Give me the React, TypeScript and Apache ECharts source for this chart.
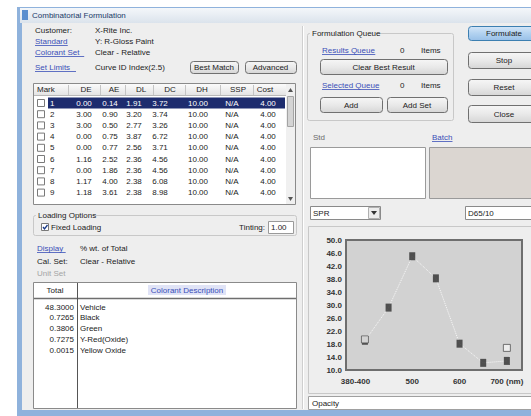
import React, { useEffect, useRef } from "react";
import * as echarts from "echarts";

// ---------- Data ----------
const wavelengths = [400, 450, 500, 550, 600, 650, 700];
const standardReflectance = [19.0, 29.2, 45.0, 38.2, 18.1, 12.2, 12.8];
const batchWavelengths = [400, 700];
const batchReflectance = [19.4, 16.8];
const xTickValues = [380, 500, 600, 700];
const xTickLabels = ["380-400", "500", "600", "700 (nm)"];

const matchHeaders = ["DE", "AE", "DL", "DC", "DH", "SSP", "Cost"];
const matchIds = ["1", "2", "3", "4", "5", "6", "7", "8", "9"];
const matchDE = ["0.00", "3.00", "3.00", "0.00", "0.00", "1.16", "0.00", "1.17", "1.18"];
const matchAE = ["0.14", "0.90", "0.50", "0.75", "0.77", "2.52", "1.86", "4.00", "3.61"];
const matchDL = ["1.91", "3.20", "2.77", "3.87", "2.56", "2.36", "2.36", "2.38", "2.38"];
const matchDC = ["3.72", "3.74", "3.26", "6.72", "3.71", "4.56", "4.56", "6.08", "8.98"];
const matchDH = ["10.00", "10.00", "10.00", "10.00", "10.00", "10.00", "10.00", "10.00", "10.00"];
const matchSSP = ["N/A", "N/A", "N/A", "N/A", "N/A", "N/A", "N/A", "N/A", "N/A"];
const matchCost = ["4.00", "4.00", "4.00", "4.00", "4.00", "4.00", "4.00", "4.00", "4.00"];

const colorantTotals = ["48.3000", "0.7265", "0.3806", "0.7275", "0.0015"];
const colorantNames = ["Vehicle", "Black", "Green", "Y-Red(Oxide)", "Yellow Oxide"];

const FONT = '"Liberation Sans", Arial, sans-serif';
const LINK = "#3a4fb8";
const BODY = "#eeeeee";

type O = { color?: string; size?: number; weight?: string; align?: string; z?: number };
function txt(x: number, y: number, text: string, o: O = {}) {
  const align = o.align ?? "left";
  return {
    type: "text", x, y, z: o.z ?? 4, silent: true,
    style: {
      text, fill: o.color ?? "#1b1b1b", fontSize: o.size ?? 8, fontFamily: FONT,
      fontWeight: o.weight ?? "normal", align, verticalAlign: "middle",
      textAlign: align, textVerticalAlign: "middle",
    },
  };
}
function rect(x: number, y: number, w: number, h: number, fill: any, stroke?: string, lw = 1, z = 1, r = 0) {
  return {
    type: "rect", z, silent: true,
    shape: { x, y, width: w, height: h, r },
    style: { fill, stroke: stroke ?? null, lineWidth: stroke ? lw : 0 },
  };
}
function line(x1: number, y1: number, x2: number, y2: number, stroke: string, lw = 1, z = 2, dash?: number[]) {
  return {
    type: "line", z, silent: true,
    shape: { x1, y1, x2, y2 },
    style: { stroke, lineWidth: lw, lineDash: dash ?? null },
  };
}
function link(x: number, y: number, text: string) {
  const w = text.length * 4.1;
  return [txt(x, y, text, { color: LINK }), line(x, y + 4.5, x + w, y + 4.5, LINK, 0.8, 4)];
}
function button(x: number, y: number, w: number, h: number, label: string, primary = false) {
  const fill = new echarts.graphic.LinearGradient(0, 0, 0, 1, primary
    ? [{ offset: 0, color: "#d4e6f8" }, { offset: 0.5, color: "#b2d2f0" }, { offset: 1, color: "#98c0e8" }]
    : [{ offset: 0, color: "#f6f6f6" }, { offset: 0.5, color: "#e9e9e9" }, { offset: 1, color: "#d6d6d6" }]);
  return [
    rect(x + 0.5, y + 0.5, w, h, fill, primary ? "#3c7fb1" : "#707070", 1, 2, 3),
    txt(x + w / 2, y + h / 2 + 0.5, label, { align: "center" }),
  ];
}
function groupBox(x: number, y: number, w: number, h: number, title?: string, tw = 0) {
  const els: any[] = [rect(x + 0.5, y + 0.5, w, h, "none", "#c8c8c8", 1, 2, 2)];
  if (title) {
    els.push(rect(x + 3, y - 4, tw, 9, BODY, undefined, 0, 3));
    els.push(txt(x + 5, y + 0.5, title, {}));
  }
  return els;
}
function checkbox(x: number, y: number, checked = false) {
  const els: any[] = [rect(x + 0.5, y + 0.5, 7, 7, "#ffffff", "#7a7a7a", 1, 3)];
  if (checked) {
    els.push({ type: "polyline", z: 4, silent: true, shape: { points: [[x + 2, y + 4], [x + 3.5, y + 6], [x + 6.5, y + 2]] }, style: { stroke: "#1b3b8a", lineWidth: 1.3, fill: "none" } });
  }
  return els;
}

function buildGraphic() {
  const els: any[] = [];
  // window frame + body
  els.push(rect(17, 7, 530, 415, "#8fb2dc", undefined, 0, 0));
  els.push(rect(20, 8, 520, 15, new echarts.graphic.LinearGradient(0, 0, 0, 1, [
    { offset: 0, color: "#f4f7fa" }, { offset: 1, color: "#dbe3ec" }]), undefined, 0, 1));
  els.push(rect(22, 10, 6, 10, "#5b8fcf", undefined, 0, 2));
  els.push(txt(32, 15.5, "Combinatorial Formulation", { color: "#223a68", size: 8 }));
  els.push(rect(22, 23, 520, 387, BODY, undefined, 0, 1));

  // header info
  els.push(txt(35, 30, "Customer:"));
  els.push(txt(95, 30, "X-Rite Inc."));
  els.push(...link(35, 41, "Standard"));
  els.push(txt(95, 41, "Y: R-Gloss Paint"));
  els.push(...link(35, 52, "Colorant Set"));
  els.push(txt(95, 52, "Clear - Relative"));
  els.push(...link(35, 67, "Set Limits"));
  els.push(txt(95, 67, "Curve ID Index(2.5)"));
  els.push(...button(190, 61, 48, 12, "Best Match"));
  els.push(...button(245, 61, 51, 12, "Advanced"));

  // match table
  els.push(rect(33.5, 83.5, 262, 121, "#ffffff", "#8a8a8a", 1, 2));
  els.push(rect(34, 84, 252, 11, new echarts.graphic.LinearGradient(0, 0, 0, 1, [
    { offset: 0, color: "#fbfbfb" }, { offset: 1, color: "#e4e4e4" }]), undefined, 0, 2));
  els.push(line(34, 95.5, 286, 95.5, "#b8b8b8", 1, 3));
  [68, 100, 125, 153, 185, 220, 253].forEach((sx) => els.push(line(sx + 0.5, 85, sx + 0.5, 95, "#c4c4c4", 1, 3)));
  els.push(txt(37, 89.5, "Mark"));
  const headX = [86, 114, 141, 170, 202, 238, 265];
  matchHeaders.forEach((h, i) => els.push(txt(headX[i], 89.5, h, { align: "center" })));
  const valX = [84, 110, 134, 160, 198, 232, 268];
  const cols = [matchDE, matchAE, matchDL, matchDC, matchDH, matchSSP, matchCost];
  matchIds.forEach((id, r) => {
    const cy = 103 + r * 11.2;
    const sel = r === 0;
    if (sel) {
      els.push(rect(48, cy - 5.5, 237, 11, "#1d2c6e", undefined, 0, 3));
    }
    els.push(...checkbox(37, cy - 4));
    const c = sel ? "#ffffff" : "#1b1b1b";
    els.push(txt(50, cy, id, { color: c, z: 5 }));
    cols.forEach((col, ci) => els.push(txt(valX[ci], cy, col[r], { align: "center", color: c, z: 5 })));
  });
  // scrollbar
  els.push(rect(286, 84, 9, 120, "#f0f0f0", undefined, 0, 3));
  els.push({ type: "polygon", z: 4, silent: true, shape: { points: [[288, 92], [293, 92], [290.5, 88]] }, style: { fill: "#555" } });
  els.push(rect(287.5, 96.5, 6, 30, "#d4d4d4", "#a4a4a4", 1, 4));
  els.push({ type: "polygon", z: 4, silent: true, shape: { points: [[288, 197], [293, 197], [290.5, 201]] }, style: { fill: "#555" } });

  // loading options
  els.push(...groupBox(33, 215, 263, 20, "Loading Options", 56));
  els.push(...checkbox(41, 223, true));
  els.push(txt(51, 227, "Fixed Loading"));
  els.push(txt(265, 227, "Tinting:", { align: "right" }));
  els.push(rect(268.5, 221.5, 25, 12, "#ffffff", "#9a9a9a", 1, 3));
  els.push(txt(271, 227.5, "1.00"));

  els.push(...link(37, 248, "Display"));
  els.push(txt(80, 248, "% wt. of Total"));
  els.push(txt(37, 261, "Cal. Set:"));
  els.push(txt(80, 261, "Clear - Relative"));
  els.push(txt(37, 273, "Unit Set", { color: "#a4a4a4" }));

  // colorant table
  els.push(rect(33.5, 282.5, 263, 126, "#ffffff", "#8a8a8a", 1, 2));
  els.push(txt(55, 290, "Total", { align: "center" }));
  els.push(rect(148, 285, 78, 10, "#e0e3f6", undefined, 0, 3));
  els.push(txt(187, 290, "Colorant Description", { align: "center", color: LINK }));
  els.push(line(34, 298.5, 296, 298.5, "#6e6e6e", 1.5, 3));
  els.push(line(77.5, 283, 77.5, 408, "#555555", 1, 3));
  colorantTotals.forEach((t, i) => {
    const cy = 307 + i * 10.9;
    els.push(txt(74, cy, t, { align: "right" }));
    els.push(txt(80, cy, colorantNames[i]));
  });

  // panel separator
  els.push(line(302.5, 26, 302.5, 409, "#cfcfcf", 1, 2));
  els.push(line(303.5, 26, 303.5, 409, "#ffffff", 1, 2));

  // formulation queue
  els.push(...groupBox(307, 33, 146, 87, "Formulation Queue", 66));
  els.push(...link(322, 50, "Results Queue"));
  els.push(txt(400, 50, "0"));
  els.push(txt(421, 50, "Items"));
  els.push(...button(320, 59, 127, 15, "Clear Best Result"));
  els.push(...link(322, 85, "Selected Queue"));
  els.push(txt(400, 85, "0"));
  els.push(txt(421, 85, "Items"));
  els.push(...button(320, 97, 62, 15, "Add"));
  els.push(...button(387, 97, 60, 15, "Add Set"));

  // right buttons
  els.push(...button(468, 26, 72, 14, "Formulate", true));
  els.push(...button(468, 52, 72, 16, "Stop"));
  els.push(...button(468, 79, 72, 16, "Reset"));
  els.push(...button(468, 105, 72, 17, "Close"));

  // swatches
  els.push(txt(313, 137, "Std", { color: "#6a6a6a" }));
  els.push(...link(432, 137, "Batch"));
  els.push(rect(310.5, 147.5, 115, 51, "#ffffff", "#9a9a9a", 1, 2));
  els.push(rect(429.5, 147.5, 110, 51, "#dbd6d1", "#9a9a9a", 1, 2));

  // selectors
  els.push(rect(310.5, 206.5, 70, 13, "#ffffff", "#8a8a8a", 1, 2));
  els.push(txt(313, 213, "SPR"));
  els.push(rect(368.5, 207.5, 11, 11, "#ececec", "#b0b0b0", 1, 3));
  els.push({ type: "polygon", z: 4, silent: true, shape: { points: [[371, 211], [377, 211], [374, 215]] }, style: { fill: "#333" } });
  els.push(rect(465.5, 206.5, 75, 13, "#ffffff", "#8a8a8a", 1, 2));
  els.push(txt(468, 213, "D65/10"));

  // chart frame
  els.push(rect(308.5, 226.5, 232, 167, "none", "#c8c8c8", 1, 2));
  els.push(rect(346, 240, 176, 130, "#d2d2d2", "#6e6e6e", 2, 3));

  // bottom field
  els.push(rect(308.5, 396.5, 232, 13, "#ffffff", "#a0a0a0", 1, 2));
  els.push(txt(312, 403, "Opacity"));
  return els;
}

export default function App() {
  const ref = useRef<HTMLDivElement>(null);
  useEffect(() => {
    if (!ref.current) return;
    const chart = echarts.init(ref.current, undefined, { renderer: "svg" });
    const stdData = wavelengths.map((w, i) => [w, standardReflectance[i]]);
    const batchData = batchWavelengths.map((w, i) => [w, batchReflectance[i]]);
    chart.setOption({
      animation: false,
      backgroundColor: "#ffffff",
      textStyle: { fontFamily: FONT },
      grid: { left: 346, top: 240, width: 176, height: 130, containLabel: false, outerBoundsMode: "none" },
      xAxis: {
        type: "value", min: 360, max: 732, interval: 20, z: 6,
        axisLine: { show: false }, axisTick: { show: false }, splitLine: { show: false },
        axisLabel: {
          fontSize: 8, fontWeight: "bold", color: "#333", margin: 7, fontFamily: FONT,
          formatter: (v: number) => { const k = xTickValues.indexOf(v); return k >= 0 ? xTickLabels[k] : ""; },
        },
      },
      yAxis: {
        type: "value", min: 10, max: 50, interval: 4, z: 6,
        axisLine: { show: false }, axisTick: { show: false }, splitLine: { show: false },
        axisLabel: { fontSize: 8, fontWeight: "bold", color: "#333", margin: 4, fontFamily: FONT, formatter: (v: number) => v.toFixed(1) },
      },
      series: [
        {
          type: "line", data: stdData, symbol: "none", z: 8, silent: true,
          lineStyle: { color: "rgba(255,255,255,0.85)", width: 1, type: "dotted" },
        },
        {
          type: "scatter", data: stdData, symbol: "rect", symbolSize: [6, 8], z: 10,
          itemStyle: { color: "#2e2e2e" },
        },
        {
          type: "scatter", data: batchData, symbol: "rect", symbolSize: [7, 7], z: 11,
          itemStyle: { color: "#f4f4f4", borderColor: "#555", borderWidth: 1 },
        },
      ],
      graphic: { elements: buildGraphic() },
    });
    return () => chart.dispose();
  }, []);
  return <div ref={ref} style={{ position: "fixed", left: 0, top: 0, width: 531, height: 416 }} />;
}
